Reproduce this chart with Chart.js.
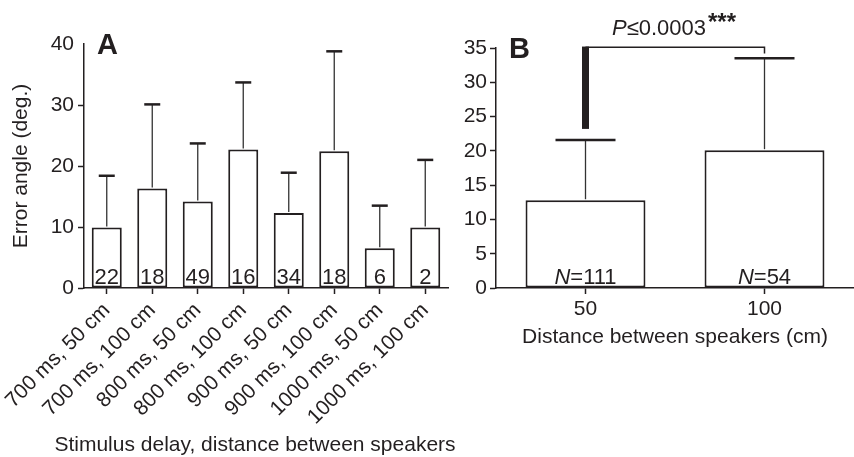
<!DOCTYPE html>
<html>
<head>
<meta charset="utf-8">
<script src="https://cdn.jsdelivr.net/npm/chart.js@4.4.1/dist/chart.umd.min.js"></script>
<style>
  html, body { margin: 0; padding: 0; background: #fff; }
  #wrap { position: relative; width: 854px; height: 457px; overflow: hidden; background: #fff; }
  #chartA { position: absolute; left: 0; top: 0; }
  #chartB { position: absolute; left: 440px; top: 0; }
</style>
</head>
<body>
<div id="wrap">
  <canvas id="chartA" width="500" height="457"></canvas>
  <canvas id="chartB" width="414" height="457"></canvas>
</div>
<script>
// --- panel A: stimulus delay x speaker distance ---
const delayLabels = ["700 ms, 50 cm", "700 ms, 100 cm", "800 ms, 50 cm", "800 ms, 100 cm",
                     "900 ms, 50 cm", "900 ms, 100 cm", "1000 ms, 50 cm", "1000 ms, 100 cm"];
const delayMeans = [9.9, 16.3, 14.2, 22.7, 12.3, 22.4, 6.5, 9.9];
const delaySD = [8.5, 13.8, 9.5, 11.0, 6.6, 16.4, 7.0, 11.1];
const delayN = [22, 18, 49, 16, 34, 18, 6, 2];
const delayTitle = "Stimulus delay, distance between speakers";

// --- panel B: distance between speakers ---
const distLabels = ["50", "100"];
const distMeans = [12.8, 20.1];
const distSD = [8.8, 13.4];
const distN = [111, 54];

// significance bracket (in y units)
const bracketY = 35.1;
const bracketLeftEnd = 23.2;
const bracketRightEnd = 34.2;
const pLabel = "P";
const pValue = "\u22640.0003";
const pStars = "***";

const ink = "#231f20";
const fontFam = '"Liberation Sans", Arial, Helvetica, sans-serif';
Chart.defaults.font.family = fontFam;
Chart.defaults.color = ink;

// upper-only error bars
function errorBars(means, sd, capWidth) {
  return {
    id: "errorBars",
    afterDatasetsDraw(chart) {
      const { ctx, scales: { x, y } } = chart;
      ctx.save();
      means.forEach((m, i) => {
        const px = x.getPixelForValue(i);
        const yBar = y.getPixelForValue(m);
        const yTop = y.getPixelForValue(m + sd[i]);
        ctx.strokeStyle = "#333";
        ctx.lineWidth = 1.3;
        ctx.beginPath(); ctx.moveTo(px, yBar - 1); ctx.lineTo(px, yTop); ctx.stroke();
        ctx.strokeStyle = ink;
        ctx.lineWidth = 2.5;
        ctx.beginPath(); ctx.moveTo(px - capWidth / 2, yTop); ctx.lineTo(px + capWidth / 2, yTop); ctx.stroke();
      });
      ctx.restore();
    }
  };
}

// panel letter + counts inside bars
function panelText(letter, counts, italicN) {
  return {
    id: "panelText",
    afterDraw(chart) {
      const { ctx, chartArea, scales: { x, y } } = chart;
      ctx.save();
      ctx.fillStyle = ink;
      ctx.textBaseline = "middle";
      ctx.textAlign = "left";
      ctx.font = "bold 29px " + fontFam;
      ctx.fillText(letter, chartArea.left + 13, chartArea.top + 2);

      ctx.textBaseline = "alphabetic";
      const base = y.getPixelForValue(0) - 4;
      counts.forEach((n, i) => {
        const px = x.getPixelForValue(i);
        if (italicN) {
          ctx.font = "italic 22px " + fontFam;
          const w1 = ctx.measureText("N").width;
          ctx.font = "22px " + fontFam;
          const w2 = ctx.measureText("=" + n).width;
          const start = px - (w1 + w2) / 2;
          ctx.textAlign = "left";
          ctx.font = "italic 22px " + fontFam;
          ctx.fillText("N", start, base);
          ctx.font = "22px " + fontFam;
          ctx.fillText("=" + n, start + w1, base);
        } else {
          ctx.textAlign = "center";
          ctx.font = "22px " + fontFam;
          ctx.fillText(String(n), px, base);
        }
      });
      ctx.restore();
    }
  };
}

// panel A axis title is wider than the plot, so it is drawn here
const delayAxisTitle = {
  id: "delayAxisTitle",
  afterDraw(chart) {
    const { ctx } = chart;
    ctx.save();
    ctx.fillStyle = ink;
    ctx.font = "21px " + fontFam;
    ctx.textAlign = "center";
    ctx.textBaseline = "middle";
    ctx.fillText(delayTitle, 255, 445);
    ctx.restore();
  }
};

const significance = {
  id: "significance",
  afterDraw(chart) {
    const { ctx, scales: { x, y } } = chart;
    const x1 = x.getPixelForValue(0);
    const x2 = x.getPixelForValue(1);
    const yb = y.getPixelForValue(bracketY);
    ctx.save();
    ctx.strokeStyle = ink;
    ctx.lineWidth = 1.5;
    ctx.beginPath();
    ctx.moveTo(x1, yb);
    ctx.lineTo(x2, yb);
    ctx.lineTo(x2, y.getPixelForValue(bracketRightEnd));
    ctx.stroke();
    ctx.lineWidth = 7;
    ctx.beginPath();
    ctx.moveTo(x1, yb - 0.75);
    ctx.lineTo(x1, y.getPixelForValue(bracketLeftEnd));
    ctx.stroke();

    ctx.fillStyle = ink;
    ctx.textBaseline = "alphabetic";
    ctx.textAlign = "left";
    ctx.font = "italic 22px " + fontFam;
    const wP = ctx.measureText(pLabel).width;
    ctx.font = "22px " + fontFam;
    const wV = ctx.measureText(pValue).width;
    const start = (x1 + x2) / 2 - (wP + wV) / 2 - 16;
    ctx.font = "italic 22px " + fontFam;
    ctx.fillText(pLabel, start, 35);
    ctx.font = "22px " + fontFam;
    ctx.fillText(pValue, start + wP, 35);
    ctx.font = "bold 24px " + fontFam;
    ctx.fillText(pStars, start + wP + wV + 2, 30);
    ctx.restore();
  }
};

const barStyle = {
  backgroundColor: "#fff",
  borderColor: ink,
  borderWidth: 2,
  borderSkipped: false,
  categoryPercentage: 1
};

new Chart(document.getElementById("chartA"), {
  type: "bar",
  data: {
    labels: delayLabels,
    datasets: [{ ...barStyle, data: delayMeans, barPercentage: 0.66 }]
  },
  options: {
    responsive: false,
    animation: false,
    layout: { padding: { left: 0, right: 52, top: 44, bottom: 0 } },
    plugins: { legend: { display: false }, tooltip: { enabled: false } },
    scales: {
      x: {
        grid: { drawOnChartArea: false, offset: false, tickLength: 6, color: ink, tickWidth: 1.5 },
        border: { color: ink, width: 1.5 },
        ticks: { font: { size: 21 }, color: ink, minRotation: 45, maxRotation: 45, padding: 4 },
        afterFit: s => { s.height = 169; }
      },
      y: {
        min: 0, max: 40,
        grid: { drawOnChartArea: false, tickLength: 6, color: c => (c.tick && c.tick.value === 40 ? "rgba(0,0,0,0)" : ink), tickWidth: 1.5 },
        border: { color: ink, width: 1.5 },
        ticks: { stepSize: 10, font: { size: 21 }, color: ink, padding: 4 },
        title: { display: true, text: "Error angle (deg.)", font: { size: 21 }, color: ink, padding: { top: 9 } },
        afterFit: s => { s.width = 84; }
      }
    }
  },
  plugins: [errorBars(delayMeans, delaySD, 16), panelText("A", delayN, false), delayAxisTitle]
});

new Chart(document.getElementById("chartB"), {
  type: "bar",
  data: {
    labels: distLabels,
    datasets: [{ ...barStyle, data: distMeans, barPercentage: 0.67 }]
  },
  options: {
    responsive: false,
    animation: false,
    layout: { padding: { left: 0, right: 0, top: 48, bottom: 0 } },
    plugins: { legend: { display: false }, tooltip: { enabled: false } },
    scales: {
      x: {
        grid: { drawOnChartArea: false, offset: false, tickLength: 6, color: ink, tickWidth: 1.5 },
        border: { color: ink, width: 1.5 },
        ticks: { font: { size: 21 }, color: ink, maxRotation: 0, padding: 3 },
        title: { display: true, text: "Distance between speakers (cm)", font: { size: 21 }, color: ink, padding: { top: 0, bottom: 107 } },
        afterFit: s => { s.height = 169; }
      },
      y: {
        min: 0, max: 35,
        grid: { drawOnChartArea: false, tickLength: 6, color: ink, tickWidth: 1.5 },
        border: { color: ink, width: 1.5 },
        ticks: { stepSize: 5, font: { size: 21 }, color: ink, padding: 3 },
        afterFit: s => { s.width = 56; }
      }
    }
  },
  plugins: [errorBars(distMeans, distSD, 60), panelText("B", distN, true), significance]
});
</script>
</body>
</html>
